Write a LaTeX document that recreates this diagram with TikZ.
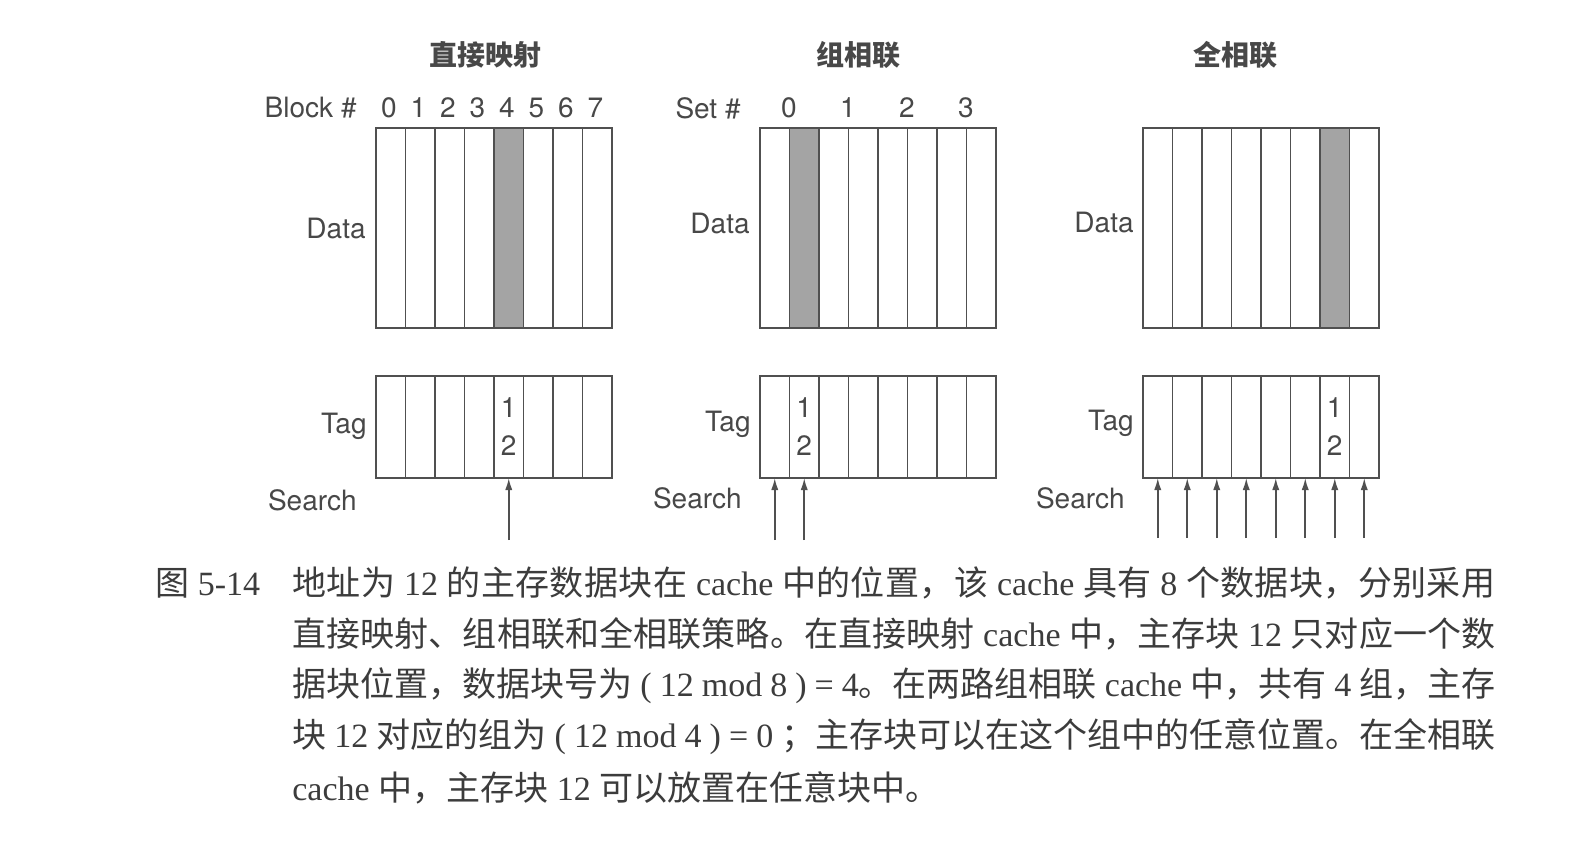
\documentclass[tikz,border=0pt]{standalone}
\usepackage{fontspec}
\setmainfont{Liberation Serif}
\newfontfamily\labfont{TeX Gyre Heros}
\newfontfamily\cjk{Noto Sans CJK SC}
\newfontfamily\latinserif{Liberation Serif}
\usetikzlibrary{arrows.meta}

% automatic switching between CJK and Latin fonts (caption only)
\newcount\cjkcc
\def\setcjkrange#1#2{\cjkcc=#1\relax\loop\XeTeXcharclass\cjkcc=1\relax\advance\cjkcc by 1\relax\ifnum\cjkcc<#2\repeat}
\setcjkrange{"3000}{"3040}
\setcjkrange{"4E00}{"A000}
\setcjkrange{"FF00}{"FFF0}
\XeTeXinterchartoks 0 1 = {\cjk}
\XeTeXinterchartoks 4095 1 = {\cjk}
\XeTeXinterchartoks 1 0 = {\latinserif}
\XeTeXinterchartoks 1 4095 = {\latinserif}
\XeTeXinterchartoks 1 1 = {\hskip 0pt plus 3pt\relax}
\newcommand\capfont{\XeTeXinterchartokenstate=1\relax\fontsize{17pt}{20pt}\latinserif}

\definecolor{linec}{HTML}{505050}
\definecolor{txt}{HTML}{484848}
\definecolor{captxt}{HTML}{3C3C3C}
\definecolor{shade}{HTML}{A4A4A4}

\tikzset{
  cell/.style={draw=linec, line width=0.9pt, minimum width=14.75pt, inner sep=0pt, outer sep=0pt},
  dcell/.style={cell, minimum height=100pt},
  tcell/.style={cell, minimum height=51pt},
  hot/.style={fill=shade},
  lab/.style={font=\labfont\fontsize{14pt}{16pt}\selectfont, text=txt, inner sep=0pt},
  ttl/.style={font=\cjk\bfseries\fontsize{14pt}{16pt}\selectfont, text=txt, inner sep=0pt},
  arr/.style={draw=linec, line width=0.8pt, -{Latex[length=6pt,width=3.6pt]}},
  captext/.style={font=\capfont, text=captxt, inner sep=0pt}
}

\begin{document}
\begin{tikzpicture}[x=0.5pt,y=-0.5pt]
\useasboundingbox[fill=white] (0,0) rectangle (1575,847);

% cells
\foreach \p/\L/\h in {1/376/4,2/760/1,3/1143/6}{
  \foreach \i in {0,...,7}{
    \pgfmathsetmacro\cx{\L+29.5*\i+14.75}
    \node[dcell] (d\p-\i) at (\cx,228) {};
    \node[tcell] (t\p-\i) at (\cx,427) {};
  }
  \node[dcell,hot] (d\p-hot) at (d\p-\h) {};
  \path (t\p-\h) ++(0,-19) node[lab] (one\p) {1};
  \path (t\p-\h) ++(0,19) node[lab] (two\p) {2};
}

% titles
\node[ttl] (ttl1) at (485,55) {直接映射};
\node[ttl] (ttl2) at (858,55) {组相联};
\node[ttl] (ttl3) at (1235,55) {全相联};

% headers
\node[lab,anchor=east] (blk) at (357,108) {Block \#};
\foreach \i in {0,...,7}{
  \pgfmathsetmacro\cx{376+29.5*\i+13}
  \node[lab] (bn\i) at (\cx,108) {\i};
}
\node[lab,anchor=east] (setl) at (741,108) {Set \#};
\foreach \j in {0,...,3}{
  \pgfmathsetmacro\cx{760+59*\j+29}
  \node[lab] (sn\j) at (\cx,108) {\j};
}

% side labels
\node[lab,anchor=east] (data1) at (366,228) {Data};
\node[lab,anchor=east] (data2) at (750,223) {Data};
\node[lab,anchor=east] (data3) at (1134,222) {Data};
\node[lab,anchor=east] (tag1) at (367,426) {Tag};
\node[lab,anchor=east] (tag2) at (751,424) {Tag};
\node[lab,anchor=east] (tag3) at (1134,423) {Tag};
\node[lab,anchor=east] (srch1) at (357,500) {Search};
\node[lab,anchor=east] (srch2) at (742,498) {Search};
\node[lab,anchor=east] (srch3) at (1125,498) {Search};

% search arrows
\draw[arr] ([yshift=-31pt]t1-4.south) -- (t1-4.south);
\foreach \i in {0,1}{
  \draw[arr] ([yshift=-31pt]t2-\i.south) -- (t2-\i.south);
}
\foreach \i in {0,...,7}{
  \draw[arr] ([yshift=-30pt]t3-\i.south) -- (t3-\i.south);
}

% caption
\node[captext,anchor=west] (fig) at (155,583) {图 5-14};
\node[captext,anchor=west] (c1) at (292,583) {\makebox[601.5pt][s]{地址为 12 的主存数据块在 cache 中的位置，该 cache 具有 8 个数据块，分别采用}};
\node[captext,anchor=west] (c2) at (292,634) {\makebox[601.5pt][s]{直接映射、组相联和全相联策略。在直接映射 cache 中，主存块 12 只对应一个数}};
\node[captext,anchor=west] (c3) at (292,686) {\makebox[601.5pt][s]{据块位置，数据块号为 ( 12 mod 8 ) = 4。在两路组相联 cache 中，共有 4 组，主存}};
\node[captext,anchor=west] (c4) at (292,737) {\makebox[601.5pt][s]{块 12 对应的组为 ( 12 mod 4 ) = 0 ；主存块可以在这个组中的任意位置。在全相联}};
\node[captext,anchor=west] (c5) at (292,788) {cache 中，主存块 12 可以放置在任意块中。};
\end{tikzpicture}
\end{document}
